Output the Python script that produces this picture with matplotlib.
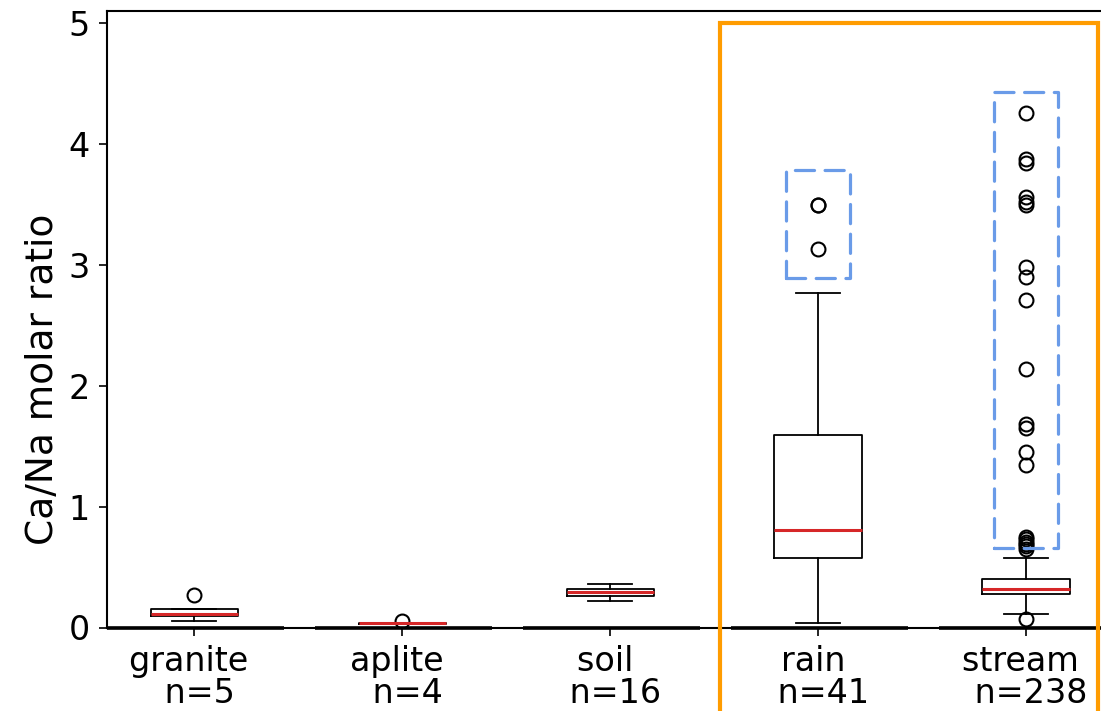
import matplotlib
matplotlib.use('Agg')
import matplotlib.pyplot as plt
import matplotlib.patches as mpatches

# box statistics
categories = ['granite', 'aplite', 'soil', 'rain', 'stream']
counts = [5, 4, 16, 41, 238]
q1_vals = [0.095, 0.033, 0.263, 0.574, 0.276]
median_vals = [0.112, 0.035, 0.290, 0.806, 0.318]
q3_vals = [0.150, 0.037, 0.318, 1.590, 0.405]
whisker_lo = [0.054, 0.033, 0.216, 0.040, 0.110]
whisker_hi = [0.150, 0.037, 0.360, 2.764, 0.572]
flier_vals = [
    [0.27],
    [0.05],
    [],
    [3.13, 3.49, 3.49],
    [0.07, 0.65, 0.67, 0.69, 0.71, 0.73, 0.75, 1.34, 1.45, 1.65, 1.68,
     2.14, 2.71, 2.90, 2.98, 3.49, 3.52, 3.56, 3.84, 3.87, 4.25],
]

# highlighted outlier ranges (category index, y bottom, y top)
outlier_boxes = [(3, 2.89, 3.78), (4, 0.655, 4.43)]
# orange frame around the water samples (x from, x to, y top)
water_frame = (3.53, 5.345, 5.0)

positions = list(range(1, len(categories) + 1))

stats = []
for i, name in enumerate(categories):
    stats.append(dict(label=name, med=median_vals[i], q1=q1_vals[i], q3=q3_vals[i],
                      whislo=whisker_lo[i], whishi=whisker_hi[i], fliers=flier_vals[i]))

fig = plt.figure(figsize=(11.01, 7.11), dpi=100)
W, H = 1101, 711
ax = fig.add_axes([107 / W, 83.5 / H, 1023 / W, 617 / H])

ax.bxp(stats, positions=positions, widths=0.42, manage_ticks=False,
       boxprops=dict(color='black', linewidth=1.3),
       whiskerprops=dict(color='black', linewidth=1.3),
       capprops=dict(color='black', linewidth=1.3),
       medianprops=dict(color='#d62728', linewidth=2.2),
       flierprops=dict(marker='o', markerfacecolor='none', markeredgecolor='black',
                       markersize=10, markeredgewidth=1.5))

ax.set_xlim(0.58, 5.5)
ax.set_ylim(0, 5.1)
ax.set_yticks([0, 1, 2, 3, 4, 5])
ax.set_xticks(positions)
ax.set_xticklabels([f"{c} \n n={n}" for c, n in zip(categories, counts)])
for lbl in ax.get_xticklabels():
    lbl.set_linespacing(0.95)

for sp in ax.spines.values():
    sp.set_linewidth(1.5)
ax.tick_params(axis='both', direction='out', length=5.5, width=1.2,
               labelsize=24, pad=7, colors='black')

# thick baseline segments under each group
for p in positions:
    ax.hlines(-0.006, p - 0.42, p + 0.43, color='black', linewidth=2.6, clip_on=False)

ax.set_ylabel('Ca/Na molar ratio', fontsize=27)
ax.yaxis.set_label_coords(-0.045, 0.402)

# dashed blue boxes around the outliers
for idx, lo, hi in outlier_boxes:
    x0 = positions[idx] - 0.155
    ax.add_patch(mpatches.Rectangle((x0, lo), 0.31, hi - lo, fill=False,
                                    edgecolor='#6a9be8', linewidth=2.3,
                                    linestyle=(0, (6, 3.3)), capstyle='round',
                                    joinstyle='round', zorder=4))

# orange frame, running off the bottom of the figure
fx0, fx1, ftop = water_frame
ax.add_patch(mpatches.Rectangle((fx0, -1.5), fx1 - fx0, ftop + 1.5, fill=False,
                                edgecolor='#ff9c00', linewidth=3.0, clip_on=False, zorder=5))

fig.savefig('out.png', dpi=100)
